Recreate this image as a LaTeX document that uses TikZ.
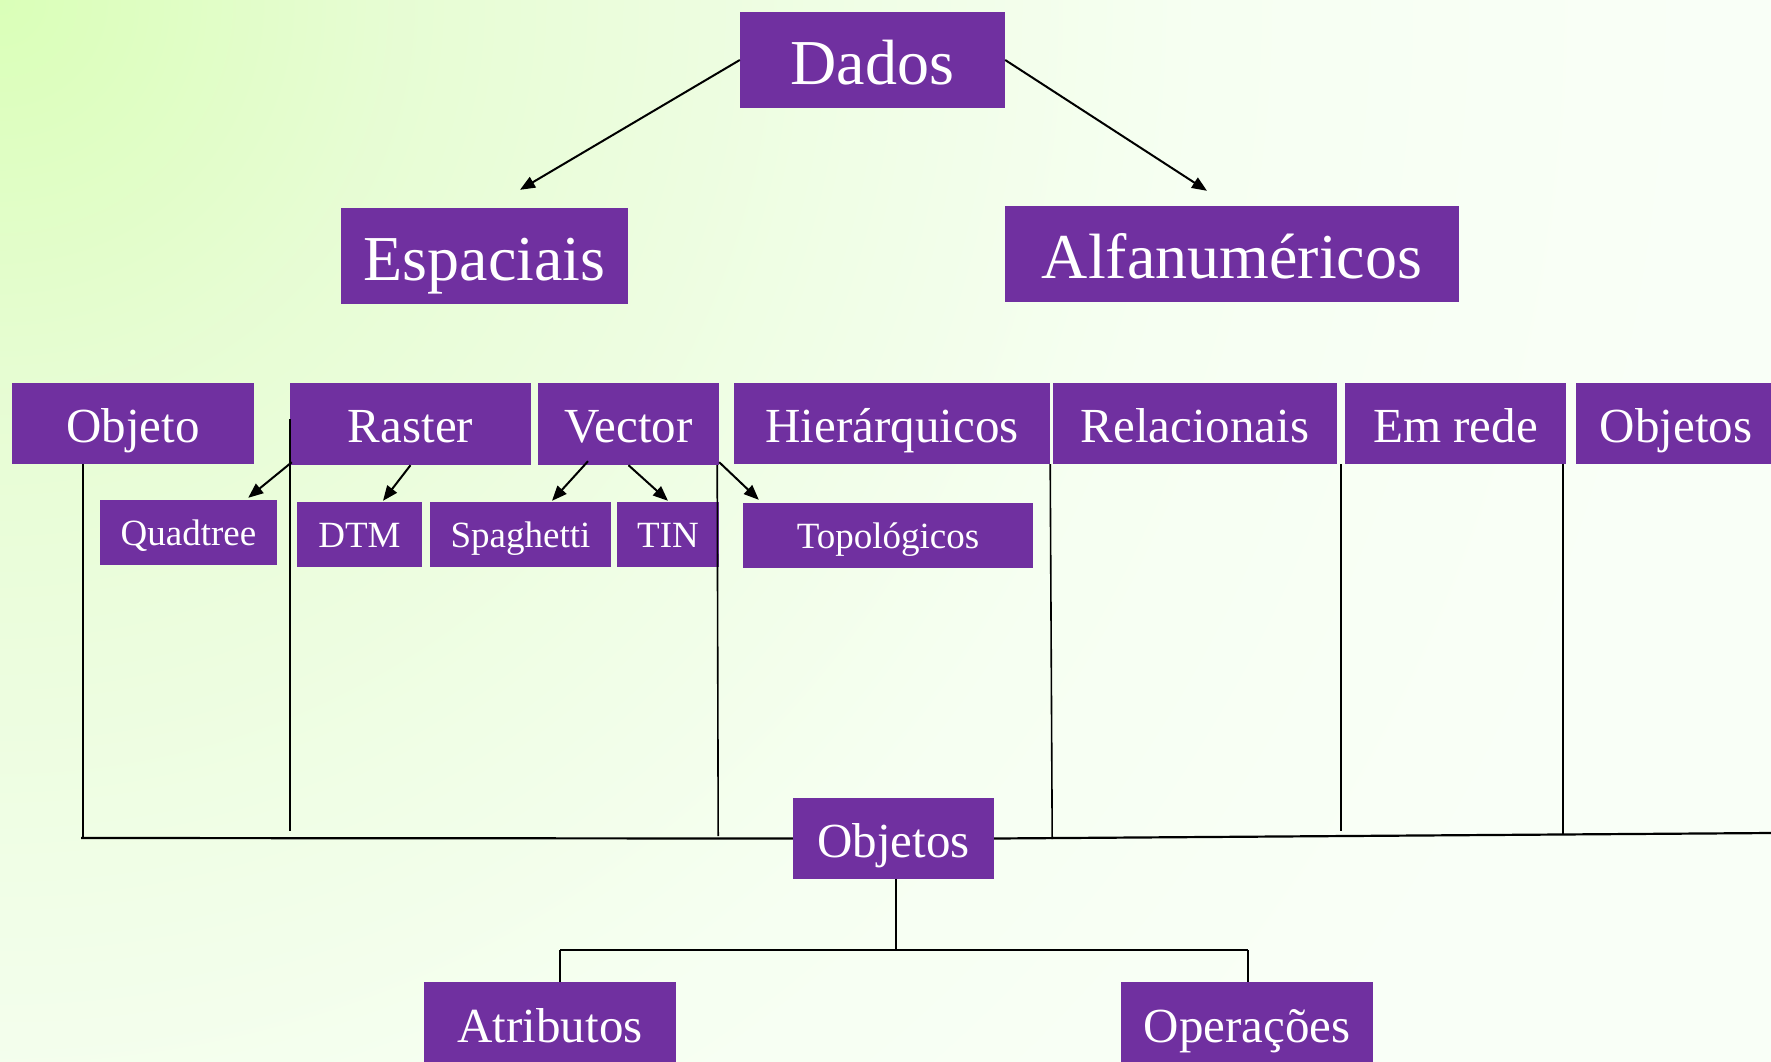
\documentclass[tikz,border=0pt]{standalone}
\usepackage{fontspec}
\setmainfont{Liberation Serif}
\usetikzlibrary{arrows.meta}
\definecolor{boxpurple}{HTML}{7030A0}
\pgfdeclareradialshading{bgshade}{\pgfpoint{0bp}{0bp}}{rgb(0bp)=(0.855,1,0.722); rgb(4.5bp)=(0.905,0.99,0.83); rgb(9.7bp)=(0.94,0.995,0.9); rgb(13.6bp)=(0.965,1,0.948); rgb(19.3bp)=(0.978,1,0.968); rgb(50bp)=(0.978,1,0.968)}
\tikzset{
  box/.style={fill=boxpurple, text=white, inner sep=0pt, align=center},
  bigbox/.style={box, font=\fontsize{64}{70}\selectfont, text height=48pt, text depth=0pt},
  midbox/.style={box, font=\fontsize{49}{54}\selectfont, text height=37pt, text depth=0pt},
  smallbox/.style={box, font=\fontsize{37}{42}\selectfont, text height=26pt, text depth=0pt},
  arr/.style={-{Triangle[length=15pt,width=12pt]}, line width=2pt},
  vline/.style={line width=1.6pt},
  bus/.style={line width=2.2pt},
}
\begin{document}
\begin{tikzpicture}[x=1pt,y=-1pt]
\useasboundingbox (0,0) rectangle (1771,1061);
\begin{scope}
\clip (0,0) rectangle (1771,1061);
\fill[color={rgb,1:red,0.978;green,1;blue,0.968}] (0,0) rectangle (1771,1061);
\shade[shading=bgshade] (0,0) circle (2200);
\end{scope}

% top level
\node[bigbox, minimum width=265pt, minimum height=96pt] (dados) at (872.5,60) {Dados};
\node[bigbox, minimum width=287pt, minimum height=96pt] (esp) at (484.5,256) {Espaciais};
\node[bigbox, minimum width=454pt, minimum height=96pt] (alfa) at (1232,254) {Alfanuméricos};

% second row
\node[midbox, minimum width=242pt, minimum height=81pt] (objeto) at (133,423.5) {Objeto};
\node[midbox, minimum width=241pt, minimum height=82pt] (raster) at (410.5,424) {Raster};
\node[midbox, minimum width=181pt, minimum height=82pt] (vector) at (628.5,424) {Vector};
\node[midbox, minimum width=316pt, minimum height=81pt] (hier) at (892,423.5) {Hierárquicos};
\node[midbox, minimum width=284pt, minimum height=81pt] (rel) at (1195,423.5) {Relacionais};
\node[midbox, minimum width=221pt, minimum height=81pt] (emrede) at (1455.5,423.5) {Em rede};
\node[midbox, minimum width=200pt, minimum height=81pt] (objr) at (1676,423.5) {Objetos};

% third row
\node[smallbox, minimum width=177pt, minimum height=65pt] (quad) at (188.5,532.5) {Quadtree};
\node[smallbox, minimum width=125pt, minimum height=65pt] (dtm) at (359.5,534.5) {DTM};
\node[smallbox, minimum width=181pt, minimum height=65pt] (spag) at (520.5,534.5) {Spaghetti};
\node[smallbox, minimum width=102pt, minimum height=65pt] (tin) at (668,534.5) {TIN};
\node[smallbox, minimum width=290pt, minimum height=65pt] (topo) at (888,535.5) {Topológicos};

% bottom
\node[midbox, minimum width=201pt, minimum height=81pt] (objc) at (893.5,838.5) {Objetos};
\node[midbox, minimum width=252pt, minimum height=83pt] (atrib) at (550,1023.5) {Atributos};
\node[midbox, minimum width=252pt, minimum height=83pt] (oper) at (1247,1023.5) {Operações};

% arrows
\draw[arr] (dados.west) -- ([xshift=35.5pt,yshift=18pt]esp.north);
\draw[arr] (dados.east) -- ([xshift=-25pt,yshift=15pt]alfa.north);
\draw[arr] ([xshift=2pt,yshift=3pt]raster.south west) -- ([xshift=-29pt,yshift=2pt]quad.north east);
\draw[arr] (raster.south) -- ([xshift=23.5pt,yshift=1pt]dtm.north);
\draw[arr] ([xshift=-40.5pt,yshift=4pt]vector.south) -- ([xshift=31.5pt,yshift=1pt]spag.north);
\draw[arr] (vector.south) -- ([yshift=1pt]tin.north);
\draw[arr] ([yshift=3pt]vector.south east) -- ([xshift=16pt,yshift=3pt]topo.north west);

% vertical lines to the bus
\draw[vline] ([xshift=71pt]objeto.south west) -- ++(0,373);
\draw[vline] ([yshift=5pt]raster.west) -- ++(0,412);
\draw[vline] ([xshift=-2pt]vector.south east) -- ++(1,371);
\draw[vline] (hier.south east) -- ++(2,375);
\draw[vline] ([xshift=-4pt]emrede.south west) -- ++(0,367);
\draw[vline] ([xshift=-3pt]emrede.south east) -- ++(0,370);

% bus
\coordinate (busL) at (81,838);
\coordinate (busR) at (1771,833);
\draw[bus] (busL) -- (objc.west);
\draw[bus] (objc.east) -- (busR);

% objetos tree
\coordinate (barL) at (560,950);
\coordinate (barR) at (1248,950);
\draw[vline] ([xshift=2.5pt]objc.south) -- ++(0,71.5);
\draw[bus] (barL) -- (barR);
\draw[vline] (barL) -- (barL |- atrib.north);
\draw[vline] (barR) -- (barR |- oper.north);
\end{tikzpicture}
\end{document}
